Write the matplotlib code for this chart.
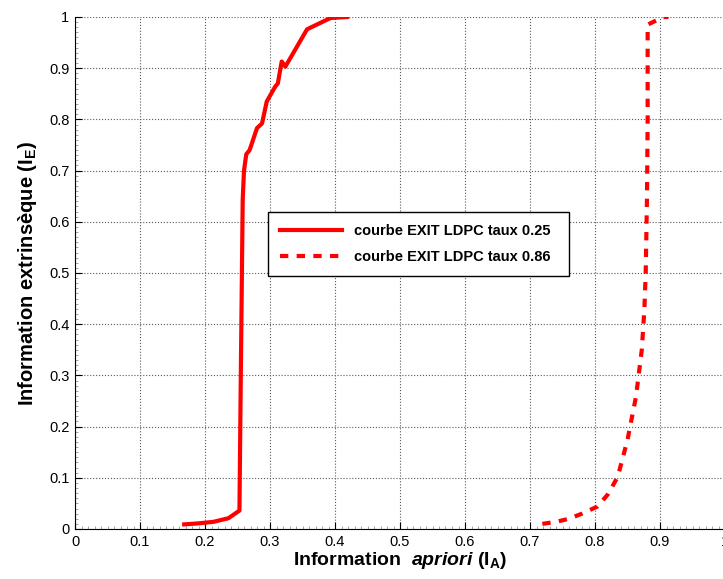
import matplotlib
matplotlib.use('Agg')
import matplotlib.pyplot as plt
from matplotlib.ticker import MultipleLocator

plt.rcParams['font.family'] = ['Liberation Sans', 'DejaVu Sans']
plt.rcParams['mathtext.fontset'] = 'custom'
plt.rcParams['mathtext.rm'] = 'Liberation Sans:bold'
plt.rcParams['mathtext.bf'] = 'Liberation Sans:bold'
plt.rcParams['mathtext.it'] = 'Liberation Sans:bold:italic'

# courbe EXIT, taux 0.25
ia_025 = [0.168, 0.190, 0.213, 0.236, 0.253, 0.255, 0.258, 0.260, 0.2635, 0.2686,
          0.280, 0.2877, 0.295, 0.308, 0.312, 0.318, 0.3236, 0.357, 0.393, 0.4186]
ie_025 = [0.009, 0.011, 0.014, 0.021, 0.036, 0.29, 0.643, 0.70, 0.732, 0.740,
          0.783, 0.792, 0.835, 0.864, 0.870, 0.913, 0.903, 0.976, 0.998, 1.0]

# courbe EXIT, taux 0.86
ia_086 = [0.719, 0.740, 0.760, 0.780, 0.804, 0.820, 0.835, 0.850, 0.863, 0.872,
          0.876, 0.878, 0.880, 0.881, 0.881, 0.905, 0.913]
ie_086 = [0.010, 0.014, 0.020, 0.030, 0.044, 0.068, 0.102, 0.174, 0.258, 0.350,
          0.430, 0.500, 0.650, 0.800, 0.985, 1.0, 1.0]

ticks = [0, 0.1, 0.2, 0.3, 0.4, 0.5, 0.6, 0.7, 0.8, 0.9, 1]
tick_labels = ['0', '0.1', '0.2', '0.3', '0.4', '0.5', '0.6', '0.7', '0.8', '0.9', '1']

fig = plt.figure(figsize=(7.23, 5.79), dpi=100)
ax = fig.add_axes([75 / 723, 50 / 579, 650 / 723, 512 / 579])

ax.plot(ia_025, ie_025, color='#ff0000', lw=3, label='courbe EXIT LDPC taux 0.25')
ax.plot(ia_086, ie_086, color='#ff0000', lw=3, linestyle=(0, (2, 2)),
        label='courbe EXIT LDPC taux 0.86')

ax.set_xlim(0, 1)
ax.set_ylim(0, 1)
ax.set_xticks(ticks)
ax.set_yticks(ticks)
ax.set_xticklabels(tick_labels)
ax.set_yticklabels(tick_labels)
ax.xaxis.set_minor_locator(MultipleLocator(0.01))
ax.yaxis.set_minor_locator(MultipleLocator(0.01))
ax.tick_params(which='major', direction='in', length=5, width=0.8, labelsize=10.5, pad=4)
ax.tick_params(which='minor', direction='in', length=2, width=0.5, color='0.5')

ax.spines['top'].set_visible(False)
ax.spines['right'].set_visible(False)
ax.grid(True, which='major', color='0.35', linestyle=':', linewidth=0.8)

ax.set_xlabel(r'Information  $\mathit{apriori}$ (I$_\mathbf{A}$)', fontsize=14,
              fontweight='bold', labelpad=1)
ax.set_ylabel(r'Information extrinsèque (I$_\mathbf{E}$)', fontsize=14.5,
              fontweight='bold', labelpad=7)

leg = ax.legend(loc='lower left', bbox_to_anchor=(0.297, 0.494, 0.463, 0.125),
                mode='expand', borderaxespad=0, prop={'weight': 'bold', 'size': 10.5},
                fancybox=False, edgecolor='black', framealpha=1, handlelength=4.3,
                borderpad=0.8, labelspacing=0.85, handletextpad=0.8)
leg.get_frame().set_linewidth(1.0)

fig.savefig('out.png', dpi=100)
